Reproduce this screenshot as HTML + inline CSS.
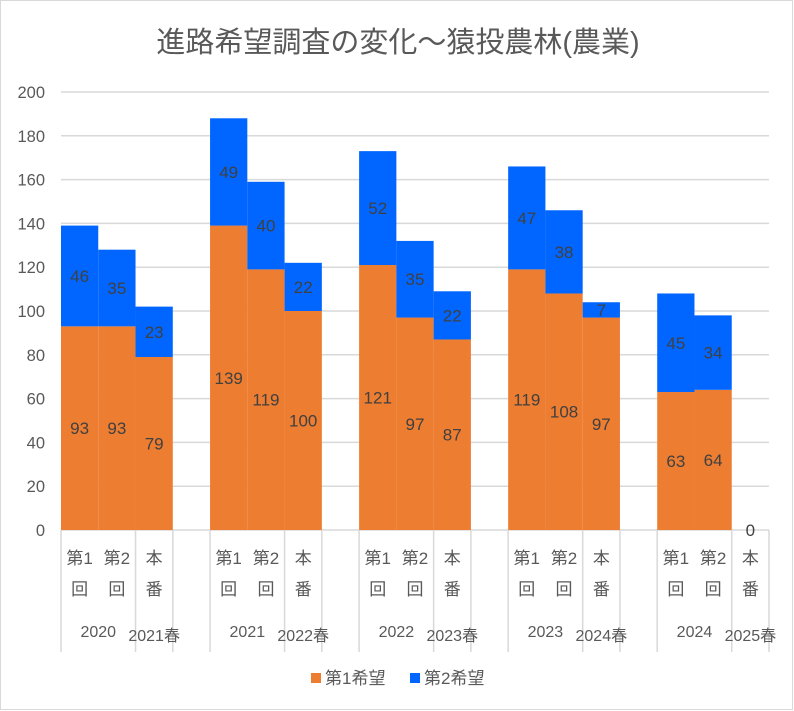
<!DOCTYPE html>
<html><head><meta charset="utf-8"><style>
body{margin:0;background:#fff;}
svg{display:block;font-family:"Liberation Sans","Noto Sans CJK JP",sans-serif;}
</style></head><body>
<svg id="c" width="794" height="711">
<rect x="0.5" y="0.5" width="792" height="709" fill="#fff" stroke="#d9d9d9"/>
<text x="398" y="52" font-size="29" fill="#595959" text-anchor="middle">進路希望調査の変化～猿投農林(農業)</text>
<g id="grid"></g><g id="bars"></g><g id="axis"></g>
<g>
<rect x="311" y="673" width="10" height="10" fill="#ED7D31"/>
<text x="325" y="684" font-size="17" fill="#595959">第1希望</text>
<rect x="410" y="673" width="10" height="10" fill="#0066FF"/>
<text x="424" y="684" font-size="17" fill="#595959">第2希望</text>
</g>
</svg>
<script>
const years=["2020","2021","2022","2023","2024"];
const springs=["2021春","2022春","2023春","2024春","2025春"];
const subLabels=[["第1","回"],["第2","回"],["本","番"]];
const first=[93,93,79,139,119,100,121,97,87,119,108,97,63,64,0];
const second=[46,35,23,49,40,22,52,35,22,47,38,7,45,34,0];
const yTicks=[0,20,40,60,80,100,120,140,160,180,200];
const NS="http://www.w3.org/2000/svg";
const x0=61,x1=769,slots=19,sw=(x1-x0)/slots,yTop=92,yBot=530;
const y=v=>yBot-(v/200)*(yBot-yTop);
const sx=i=>x0+(Math.floor(i/3)*4+i%3)*sw;
function mk(p,t,a){const e=document.createElementNS(NS,t);for(const k in a)e.setAttribute(k,a[k]);p.appendChild(e);return e;}
const grid=document.getElementById('grid'),bars=document.getElementById('bars'),axis=document.getElementById('axis');
yTicks.forEach(v=>{
 const l=mk(grid,'line',{x1:x0,x2:x1,y1:y(v),y2:y(v),stroke:'#d9d9d9','stroke-width':1.5});
 
 
 const t=mk(axis,'text',{x:45,y:y(v)+6,'font-size':16.5,fill:'#595959','text-anchor':'end'});
 t.textContent=v;
 
 
});
first.forEach((v,i)=>{
 const s=second[i],bx=sx(i);
 const r1=mk(bars,'rect',{x:bx,y:y(v),width:sw,height:y(0)-y(v),fill:'#ED7D31'});
 
 
 const r2=mk(bars,'rect',{x:bx,y:y(v+s),width:sw,height:y(v)-y(v+s),fill:'#0066FF'});
 
 
 if(v===0&&s===0){
  const t=mk(bars,'text',{x:bx+sw/2,y:y(0)+6,'font-size':17,fill:'#404040','text-anchor':'middle'});t.textContent='0';
  
  
 } else {
  const t1=mk(bars,'text',{x:bx+sw/2,y:(y(v)+y(0))/2+6,'font-size':17,fill:'#404040','text-anchor':'middle'});t1.textContent=v;
  
  
  const t2=mk(bars,'text',{x:bx+sw/2,y:(y(v)+y(v+s))/2+6,'font-size':17,fill:'#404040','text-anchor':'middle'});t2.textContent=s;
  
  
 }
});
const sep=[];
for(let g=0;g<5;g++){sep.push(x0+g*4*sw,x0+(g*4+2)*sw,x0+(g*4+3)*sw);}
sep.forEach(xx=>{
 const l=mk(axis,'line',{x1:xx,x2:xx,y1:yBot,y2:652,stroke:'#d9d9d9','stroke-width':1.5});
 
 
});
for(let i=0;i<15;i++){
 const cx=sx(i)+sw/2,lab=subLabels[i%3];
 const a=mk(axis,'text',{x:cx,y:564,'font-size':17,fill:'#595959','text-anchor':'middle'});a.textContent=lab[0];
 
 
 const b=mk(axis,'text',{x:cx,y:595,'font-size':17,fill:'#595959','text-anchor':'middle'});b.textContent=lab[1];
 
 
}
years.forEach((yr,g)=>{
 const t=mk(axis,'text',{x:x0+(g*4+1)*sw,y:637,'font-size':16,fill:'#595959','text-anchor':'middle'});t.textContent=yr;
 
 
 const s=mk(axis,'text',{x:x0+(g*4+2.5)*sw,y:641,'font-size':16,fill:'#595959','text-anchor':'middle'});s.textContent=springs[g];
 
 
});
</script>
</body></html>
